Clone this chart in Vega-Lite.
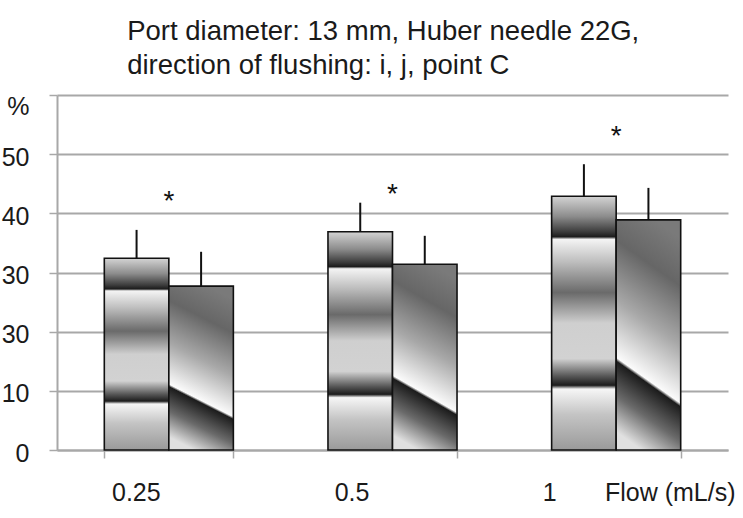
{
  "$schema": "https://vega.github.io/schema/vega-lite/v6.json",
  "width": 671,
  "height": 355,
  "autosize": "none",
  "padding": {"left": 57, "top": 95, "right": 15, "bottom": 68},
  "background": "white",
  "config": {
    "view": {"stroke": null},
    "font": "Liberation Sans"
  },
  "title": {
    "text": ["Port diameter: 13 mm, Huber needle 22G,", "direction of flushing: i, j, point C"],
    "anchor": "start",
    "dx": 126,
    "fontSize": 27.5,
    "fontWeight": "normal",
    "color": "#1a1a1a",
    "lineHeight": 34,
    "offset": 15,
    "font": "Liberation Sans"
  },
  "datasets": {
    "bars": [
      {"flow": "0.25", "series": "A", "value": 32.4, "upper": 37.2},
      {"flow": "0.25", "series": "B", "value": 27.7, "upper": 33.5},
      {"flow": "0.5", "series": "A", "value": 36.9, "upper": 41.8},
      {"flow": "0.5", "series": "B", "value": 31.4, "upper": 36.2},
      {"flow": "1", "series": "A", "value": 42.9, "upper": 48.3},
      {"flow": "1", "series": "B", "value": 38.9, "upper": 44.3}
    ],
    "stars": [
      {"flow": "0.25", "star": 42.8, "label": "*"},
      {"flow": "0.5", "star": 43.9, "label": "*"},
      {"flow": "1", "star": 53.8, "label": "*"}
    ]
  },
  "encoding": {
    "x": {
      "field": "flow",
      "type": "nominal",
      "sort": ["0.25", "0.5", "1"],
      "scale": {"domain": ["0.25", "0.5", "1"], "paddingInner": 0.423, "paddingOuter": 0.2115},
      "axis": {
        "title": "Flow (mL/s)",
        "titleFontSize": 25,
        "titleFontWeight": "normal",
        "titleColor": "#1a1a1a",
        "titleAlign": "right",
        "titleBaseline": "top",
        "titleX": 678,
        "titleY": 30,
        "labelAngle": 0,
        "labelFontSize": 25,
        "labelColor": "#1a1a1a",
        "labelPadding": 22,
        "labelOffset": {"condition": [{"test": "datum.value == '1'", "value": -67}, {"test": "datum.value == '0.5'", "value": -41}], "value": -33},
        "domainColor": "#a8a8a8",
        "domainWidth": 2,
        "tickBand": "extent",
        "tickColor": "#a8a8a8",
        "tickWidth": 1.5,
        "tickSize": 8,
        "grid": false
      }
    }
  },
  "layer": [
    {
      "data": {"name": "bars"},
      "transform": [{"filter": "datum.series == 'A'"}],
      "mark": {
        "type": "bar",
        "stroke": "#111111",
        "strokeWidth": 1.6,
        "color": {
          "gradient": "linear",
          "x1": 0, "y1": 0, "x2": 0, "y2": 1,
          "stops": [
            {"offset": 0, "color": "#d4d4d4"},
            {"offset": 0.08, "color": "#8c8c8c"},
            {"offset": 0.14, "color": "#3c3c3c"},
            {"offset": 0.16, "color": "#1c1c1c"},
            {"offset": 0.17, "color": "#f4f4f4"},
            {"offset": 0.26, "color": "#bdbdbd"},
            {"offset": 0.38, "color": "#6a6a6a"},
            {"offset": 0.5, "color": "#cfcfcf"},
            {"offset": 0.64, "color": "#d2d2d2"},
            {"offset": 0.71, "color": "#555555"},
            {"offset": 0.745, "color": "#1c1c1c"},
            {"offset": 0.76, "color": "#f6f6f6"},
            {"offset": 0.86, "color": "#c4c4c4"},
            {"offset": 1, "color": "#9a9a9a"}
          ]
        }
      },
      "encoding": {
        "xOffset": {"field": "series", "type": "nominal", "scale": {"domain": ["A", "B"], "paddingInner": 0, "paddingOuter": 0}},
        "y": {
          "field": "value",
          "type": "quantitative",
          "scale": {"domain": [0, 60], "nice": false},
          "axis": {
            "title": null,
            "values": [0, 10, 20, 30, 40, 50, 60],
            "labelExpr": "datum.value == 60 ? '%' : datum.value == 20 ? '30' : datum.label",
            "labelFontSize": 25,
            "labelColor": "#1a1a1a",
            "labelPadding": 20,
            "labelOffset": {"condition": {"test": "datum.value == 60", "value": 11}, "value": 3},
            "domainColor": "#a8a8a8",
            "domainWidth": 2,
            "tickColor": "#a8a8a8",
            "tickWidth": 1.5,
            "tickSize": 8,
            "grid": true,
            "gridColor": "#a8a8a8",
            "gridWidth": 2
          }
        }
      }
    },
    {
      "data": {"name": "bars"},
      "transform": [{"filter": "datum.series == 'B'"}],
      "mark": {
        "type": "bar",
        "stroke": "#111111",
        "strokeWidth": 1.6,
        "color": {
          "gradient": "linear",
          "x1": 0.6, "y1": 0, "x2": 0.4, "y2": 1,
          "stops": [
            {"offset": 0, "color": "#7a7a7a"},
            {"offset": 0.2, "color": "#666666"},
            {"offset": 0.45, "color": "#a8a8a8"},
            {"offset": 0.69, "color": "#fbfbfb"},
            {"offset": 0.705, "color": "#1c1c1c"},
            {"offset": 0.85, "color": "#6a6a6a"},
            {"offset": 1, "color": "#e0e0e0"}
          ]
        }
      },
      "encoding": {
        "xOffset": {"field": "series", "type": "nominal", "scale": {"domain": ["A", "B"], "paddingInner": 0, "paddingOuter": 0}},
        "y": {"field": "value", "type": "quantitative"}
      }
    },
    {
      "data": {"name": "bars"},
      "mark": {"type": "rule", "color": "#111111", "strokeWidth": 2},
      "encoding": {
        "xOffset": {"field": "series", "type": "nominal", "scale": {"domain": ["A", "B"], "paddingInner": 0, "paddingOuter": 0}},
        "y": {"field": "value", "type": "quantitative"},
        "y2": {"field": "upper"}
      }
    },
    {
      "data": {"name": "stars"},
      "mark": {"type": "text", "fontSize": 28, "color": "#111111", "baseline": "middle", "dy": 5, "font": "Liberation Sans"},
      "encoding": {
        "y": {"field": "star", "type": "quantitative"},
        "text": {"field": "label"}
      }
    }
  ]
}
